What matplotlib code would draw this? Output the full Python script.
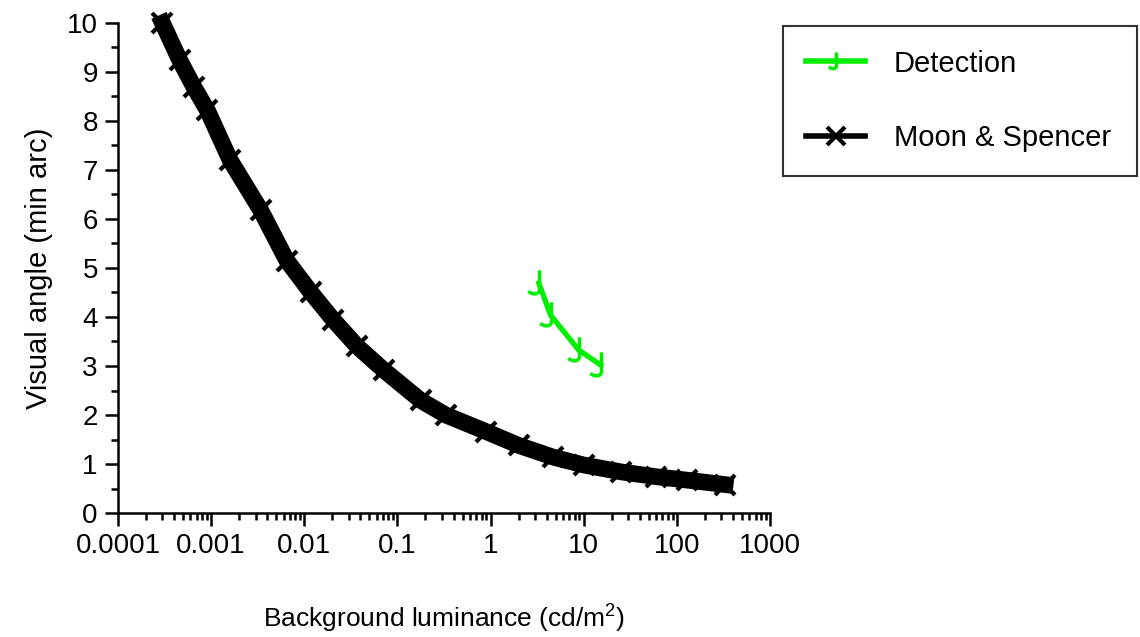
import matplotlib
matplotlib.use('Agg')
import matplotlib.pyplot as plt
from matplotlib.path import Path
from matplotlib.ticker import LogLocator, FixedLocator, FuncFormatter, NullFormatter

plt.rcParams['font.family'] = ['Liberation Sans', 'DejaVu Sans']

# Data
det_lum = [3.3, 4.4, 8.8, 15.2]
det_angle = [4.69, 4.04, 3.33, 3.02]

ms_lum = [0.0003, 0.00046, 0.00065, 0.00091, 0.0016, 0.0034, 0.0065, 0.0118,
          0.0205, 0.037, 0.071, 0.177, 0.33, 0.9, 2.0, 4.7, 10, 25, 60, 130, 330]
ms_angle = [10.0, 9.24, 8.7, 8.22, 7.2, 6.18, 5.15, 4.5, 3.94, 3.4, 2.92, 2.3,
            2.0, 1.66, 1.38, 1.14, 0.98, 0.84, 0.74, 0.67, 0.58]

x_ticks = [1e-4, 1e-3, 1e-2, 1e-1, 1, 10, 100, 1000]
y_ticks = list(range(0, 11))

green = '#00ee00'

# hook marker: vertical stroke curling left at the bottom
hook = Path([(0, 1.0), (0, -0.4), (0, -0.85), (-0.45, -0.9), (-0.85, -0.6)],
            [Path.MOVETO, Path.LINETO, Path.CURVE4, Path.CURVE4, Path.CURVE4])

fig = plt.figure(figsize=(11.4, 6.37), dpi=100)
ax = fig.add_axes([118 / 1140, 1 - 513 / 637, (770 - 118) / 1140, (513 - 23) / 637])

ax.plot(det_lum, det_angle, color=green, lw=3.8, marker=hook, markersize=19,
        markerfacecolor='none', markeredgecolor=green, markeredgewidth=2.5,
        label='Detection', zorder=3)
ax.plot(ms_lum, ms_angle, color='black', lw=12, marker='x', markersize=14,
        markeredgewidth=3, label='Moon & Spencer', clip_on=False, zorder=2)

ax.set_xscale('log')
ax.set_xlim(1e-4, 1e3)
ax.set_ylim(0, 10)

ax.xaxis.set_major_locator(FixedLocator(x_ticks))
ax.xaxis.set_major_formatter(FuncFormatter(lambda v, p: '%g' % v))
ax.xaxis.set_minor_locator(LogLocator(base=10, subs=range(2, 10), numticks=50))
ax.xaxis.set_minor_formatter(NullFormatter())
ax.yaxis.set_major_locator(FixedLocator(y_ticks))
ax.yaxis.set_minor_locator(FixedLocator([v + 0.5 for v in range(10)]))

for s in ['top', 'right']:
    ax.spines[s].set_visible(False)
for s in ['left', 'bottom']:
    ax.spines[s].set_linewidth(1.8)

ax.tick_params(which='major', direction='out', length=9.5, width=1.8)
ax.tick_params(which='minor', direction='out', length=5, width=1.8)
ax.tick_params(axis='x', which='major', labelsize=20, pad=5)
ax.tick_params(axis='y', which='major', labelsize=20, pad=5)

ax.set_xlabel('Background luminance (cd/m$^{\\mathregular{2}}$)', fontsize=19, labelpad=30)
ax.set_ylabel('Visual angle (min arc)', fontsize=21, labelpad=10)

leg = fig.legend(loc='upper left', bbox_to_anchor=(783 / 1140, 1 - 27 / 637, 354 / 1140, 0.001),
                 mode='expand', fontsize=21, frameon=True, fancybox=False, shadow=False,
                 edgecolor='black', borderpad=0.8, labelspacing=1.6, handlelength=2.0,
                 handletextpad=1.0, borderaxespad=0)
leg.get_frame().set_linewidth(1.5)
for h in leg.legend_handles:
    h.set_linewidth(4)
    h.set_markersize(13)

fig.savefig('out.png', dpi=100, facecolor='white')
